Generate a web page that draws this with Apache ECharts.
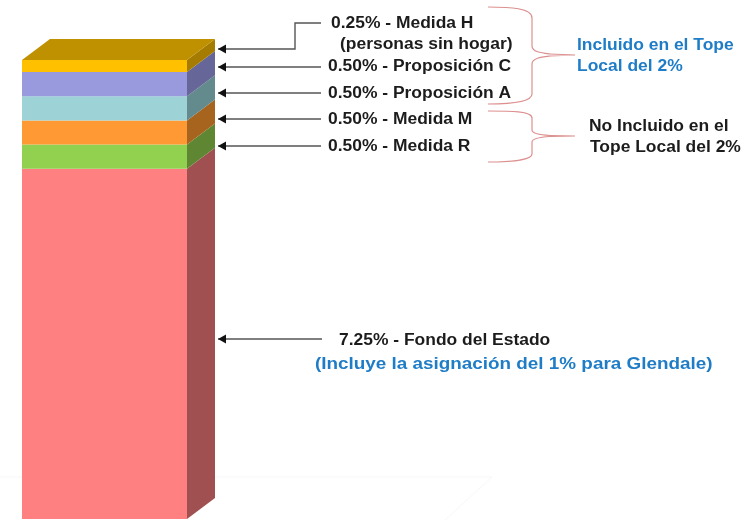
<!DOCTYPE html>
<html>
<head>
<meta charset="utf-8">
<script src="https://cdn.jsdelivr.net/npm/echarts@6/dist/echarts.min.js"></script>
<style>
  html, body { margin: 0; padding: 0; background: #fff; }
  #main { width: 754px; height: 520px; }
</style>
</head>
<body>
<div id="main"></div>
<script>
// bottom to top
const categories = ['Impuesto'];
const segmentNames = ['Fondo del Estado', 'Medida R', 'Medida M', 'Proposición A', 'Proposición C', 'Medida H'];
const segmentValues = [7.25, 0.5, 0.5, 0.5, 0.5, 0.25];
const frontColors = ['#FF8080', '#92D050', '#FF9933', '#9DD3D6', '#9999DD', '#FFC000'];
const sideColors = ['#A05050', '#5F8733', '#A6641F', '#638A8C', '#666699', '#A67C00'];
const topColor = '#BF9000';

const labelMedidaH = ['0.25% - Medida H', '(personas sin hogar)'];
const labelPropC = '0.50% - Proposición C';
const labelPropA = '0.50% - Proposición A';
const labelMedidaM = '0.50% - Medida M';
const labelMedidaR = '0.50% - Medida R';
const labelFondo = '7.25% - Fondo del Estado';
const labelGlendale = '(Incluye la asignación del 1% para Glendale)';
const labelIncluido = ['Incluido en el Tope', 'Local del 2%'];
const labelNoIncluido = ['No Incluido en el', 'Tope Local del 2%'];

const total = segmentValues.reduce((a, b) => a + b, 0);
let running = 0;
const seriesData = segmentValues.map((v, i) => {
  const row = [0, running, running + v, i];
  running += v;
  return row;
});

const depthX = 28;
const depthY = 21;
const font = 'Liberation Sans, Arial, sans-serif';
const dark = '#1c1c1c';
const blue = '#1F7CC6';
const brace = '#DC8F8F';
const arrowGray = '#555';

function renderSegment(params, api) {
  const low = api.coord([api.value(0), api.value(1)]);
  const high = api.coord([api.value(0), api.value(2)]);
  const w = api.size([1, 0])[0];
  const i = api.value(3);
  const x0 = low[0] - w / 2;
  const x1 = low[0] + w / 2;
  const children = [
    {
      type: 'rect',
      shape: { x: x0, y: high[1], width: w, height: low[1] - high[1] },
      style: { fill: frontColors[i] }
    },
    {
      type: 'polygon',
      shape: { points: [[x1, low[1]], [x1 + depthX, low[1] - depthY], [x1 + depthX, high[1] - depthY], [x1, high[1]]] },
      style: { fill: sideColors[i] }
    }
  ];
  if (i === segmentValues.length - 1) {
    children.push({
      type: 'polygon',
      shape: { points: [[x0, high[1]], [x0 + depthX, high[1] - depthY], [x1 + depthX, high[1] - depthY], [x1, high[1]]] },
      style: { fill: topColor }
    });
  }
  return { type: 'group', children: children };
}

// the reference text is stretched sideways, so scaleX it
function text(x, y, str, color, size, scale) {
  return {
    type: 'text', x: x, y: y + 0.5, scaleX: scale || 1.09,
    style: {
      text: str, fill: color || dark,
      font: 'bold ' + (size || 16) + 'px ' + font,
      verticalAlign: 'middle'
    }
  };
}

// arrow pointing left at the bar, pts starts from the tip
function arrow(pts) {
  const tip = pts[0];
  return [
    { type: 'polyline', shape: { points: pts }, style: { stroke: arrowGray, lineWidth: 1.4, fill: null } },
    {
      type: 'polygon',
      shape: { points: [tip, [tip[0] + 8, tip[1] - 4.5], [tip[0] + 8, tip[1] + 4.5]] },
      style: { fill: '#111' }
    }
  ];
}

// each piece is x1,y1, cp1, cp2, x2,y2
function braceCurve(p) {
  return {
    type: 'bezierCurve',
    shape: { x1: p[0], y1: p[1], cpx1: p[2], cpy1: p[3], cpx2: p[4], cpy2: p[5], x2: p[6], y2: p[7] },
    style: { stroke: brace, lineWidth: 1.2, fill: null }
  };
}
function braceLine(pts) {
  return { type: 'polyline', shape: { points: pts }, style: { stroke: brace, lineWidth: 1.2, fill: null } };
}

const myChart = echarts.init(document.getElementById('main'), null, { renderer: 'canvas' });
myChart.setOption({
  animation: false,
  backgroundColor: '#fff',
  grid: { left: 22, right: 567, top: 60, bottom: 1 },
  xAxis: { type: 'category', data: categories, show: false },
  yAxis: { type: 'value', min: 0, max: total, show: false },
  series: [
    {
      type: 'custom',
      name: 'Tasa',
      renderItem: renderSegment,
      encode: { x: 0, y: [1, 2] },
      data: seriesData,
      z: 3
    }
  ],
  graphic: [
    // faint floor behind the bar
    { type: 'polyline', z: 0, shape: { points: [[0, 477], [492, 477], [445, 520]] }, style: { stroke: '#f7f7f7', lineWidth: 1, fill: null } },

    ...arrow([[218, 49], [295, 49], [295, 23], [321, 23]]),
    ...arrow([[218, 67], [321, 67]]),
    ...arrow([[218, 93], [321, 93]]),
    ...arrow([[218, 119], [321, 119]]),
    ...arrow([[218, 146], [321, 146]]),
    ...arrow([[218, 339], [322, 339]]),

    text(331, 23, labelMedidaH[0]),
    text(340, 44, labelMedidaH[1]),
    text(328, 66, labelPropC),
    text(328, 93, labelPropA),
    text(328, 119, labelMedidaM),
    text(328, 146, labelMedidaR),
    text(339, 340, labelFondo),
    text(315, 364, labelGlendale, blue, 17, 1.11),

    text(577, 45, labelIncluido[0], blue),
    text(577, 66, labelIncluido[1], blue),
    text(589, 126, labelNoIncluido[0]),
    text(590, 147, labelNoIncluido[1]),

    // upper brace
    braceCurve([488, 7, 510, 7, 532, 8, 532, 18]),
    braceLine([[532, 18], [532, 46]]),
    braceCurve([532, 46, 532, 52, 542, 53, 550, 54]),
    braceLine([[550, 54], [575, 55], [550, 56]]),
    braceCurve([550, 56, 542, 57, 532, 58, 532, 64]),
    braceLine([[532, 64], [532, 94]]),
    braceCurve([532, 94, 532, 102, 510, 104, 488, 104]),
    // lower brace
    braceCurve([488, 111, 510, 111, 532, 111, 532, 118]),
    braceLine([[532, 118], [532, 130]]),
    braceCurve([532, 130, 532, 134, 542, 135, 550, 135.5]),
    braceLine([[550, 135.5], [575, 136], [550, 136.5]]),
    braceCurve([550, 136.5, 542, 137, 532, 138, 532, 142]),
    braceLine([[532, 142], [532, 154]]),
    braceCurve([532, 154, 532, 160, 510, 162, 488, 162])
  ]
});
</script>
</body>
</html>
